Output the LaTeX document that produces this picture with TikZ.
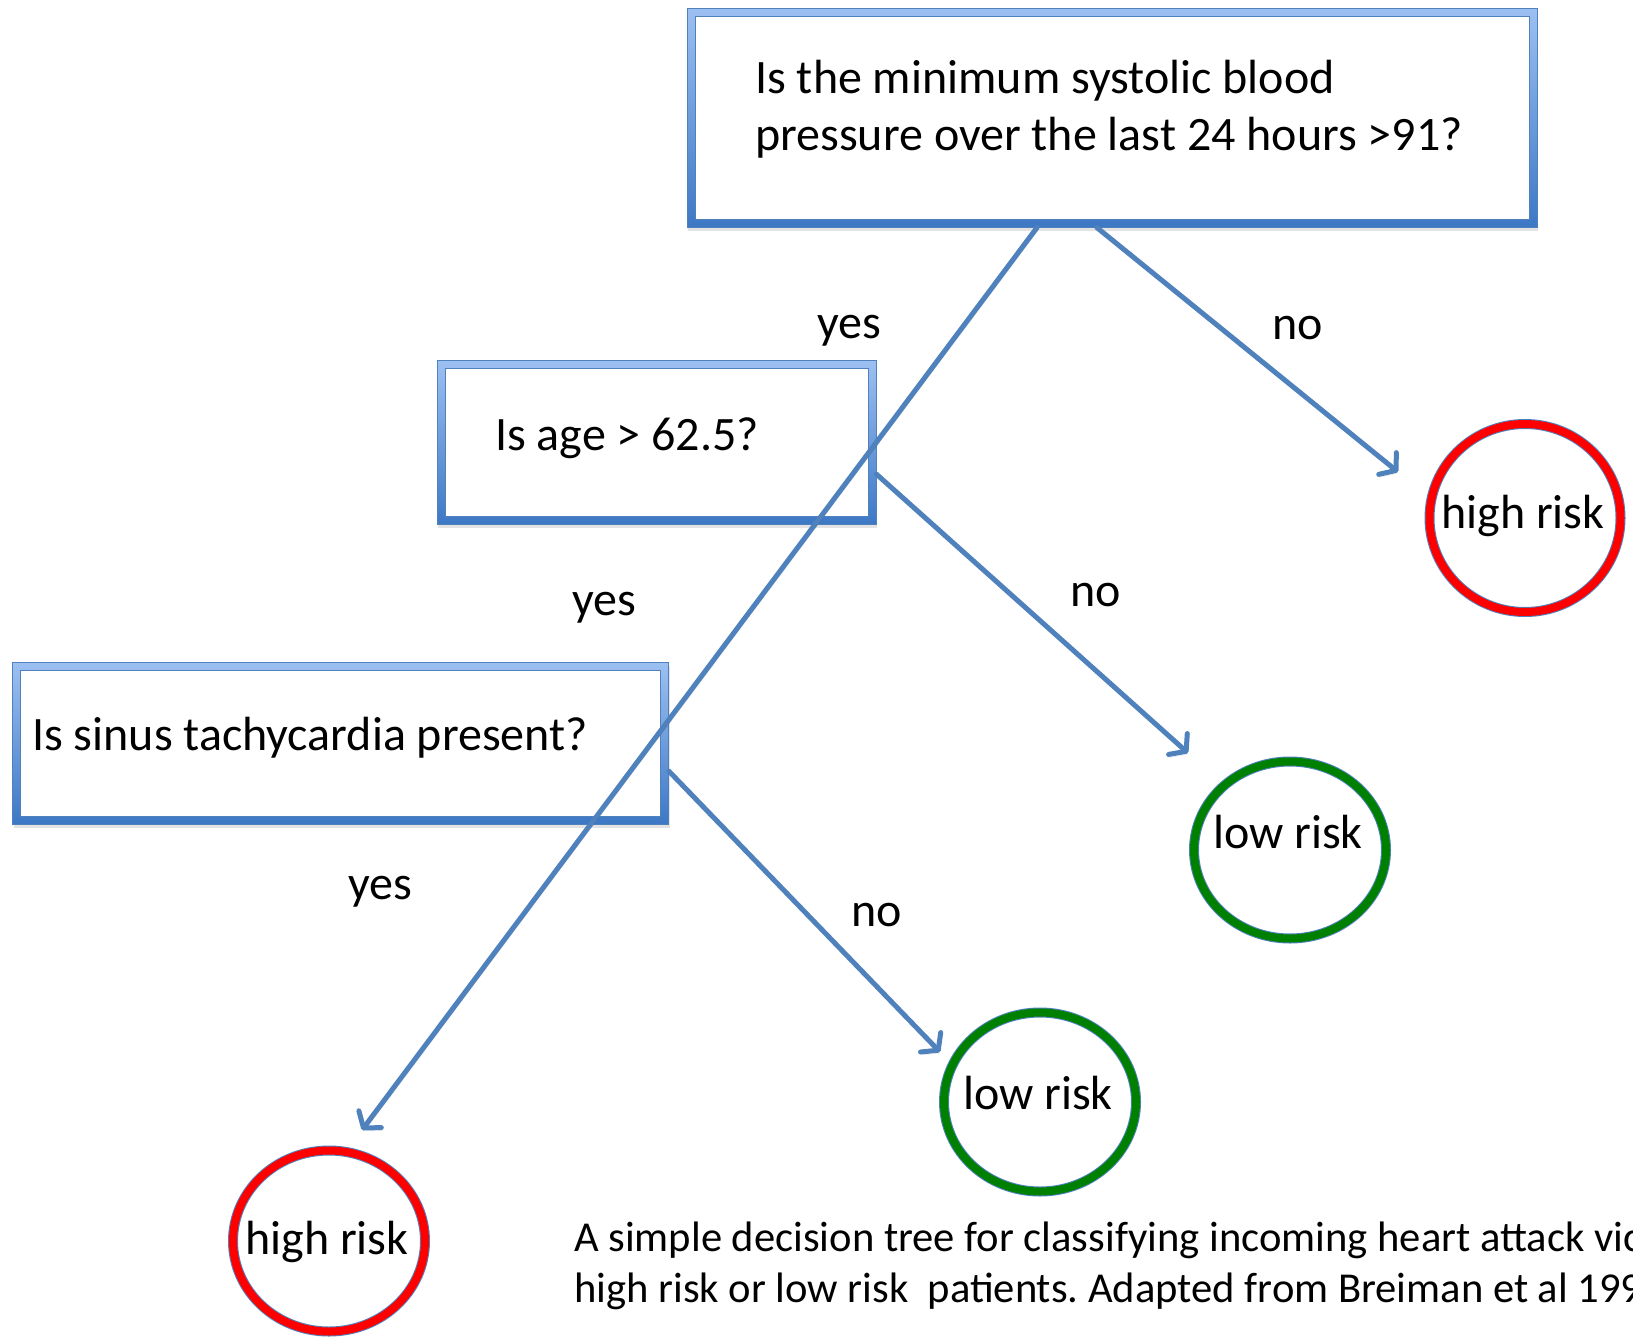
\documentclass[tikz,border=0pt]{standalone}
\usepackage{fontspec}
\setmainfont{Carlito}
\usetikzlibrary{arrows.meta,shapes.geometric,shadows,calc}

\definecolor{linkblue}{HTML}{4F81BD}
\definecolor{framelight}{HTML}{9DC0F2}
\definecolor{framedark}{HTML}{3D78C5}
\definecolor{riskred}{HTML}{FF0000}
\definecolor{riskgreen}{HTML}{008000}

\frenchspacing
\begin{document}
\begin{tikzpicture}[x=1pt,y=-1pt,
  softshadow/.style={drop shadow={opacity=0.22, shadow xshift=1pt, shadow yshift=-4pt}},
  question/.style={rectangle, draw=linkblue, line width=0.8pt,
    top color=framelight, bottom color=framedark, inner sep=0pt, softshadow,
    path picture={\fill[white, draw=linkblue, line width=0.8pt]
      ([shift={(8pt,-8pt)}]path picture bounding box.north west) rectangle
      ([shift={(-8pt,8pt)}]path picture bounding box.south east);}},
  outcome/.style={ellipse, inner sep=0pt, line width=8pt, softshadow,
    preaction={fill=white},
    preaction={draw=linkblue, line width=10pt}},
  high/.style={outcome, draw=riskred},
  low/.style={outcome, draw=riskgreen},
  txt/.style={inner sep=0pt, font=\fontsize{48}{57}\selectfont},
  caption/.style={inner sep=0pt, align=left, font=\fontsize{42.6}{51}\selectfont},
  arr/.style={draw=linkblue, line width=5pt, line cap=round,
    -{Straight Barb[length=11pt,width=28pt,round]},
    preaction={draw=black, draw opacity=0.12, transform canvas={shift={(1pt,-3pt)}}}}
]
\useasboundingbox (0,0) rectangle (1633,1336);
\fill[white] (0,0) rectangle (1633,1336);

% question boxes
\node[question, minimum width=850pt, minimum height=219pt] (top) at (1112,117.5) {};
\node[question, minimum width=439pt, minimum height=164pt] (age) at (656.5,442) {};
\node[question, minimum width=656pt, minimum height=162pt] (sinus) at (340.5,743) {};

\node[txt, align=left, anchor=west] (topq) at (755,109)
  {Is the minimum systolic blood\\pressure over the last 24 hours >91?};
\node[txt, anchor=base west] (ageq) at (495,450) {Is age > 62.5?};
\node[txt, anchor=base west] (sinusq) at (32,750) {Is sinus tachycardia present?};

% outcome circles
\node[high, minimum width=191pt, minimum height=188pt] (hr1) at (1525,518) {};
\node[low,  minimum width=192pt, minimum height=177pt] (lr1) at (1290,850) {};
\node[low,  minimum width=192pt, minimum height=179pt] (lr2) at (1040,1102) {};
\node[high, minimum width=192pt, minimum height=181pt] (hr2) at (329,1241) {};

\node[txt, anchor=base] (hr1t) at (1523,528) {high risk};
\node[txt, anchor=base] (lr1t) at (1288,848) {low risk};
\node[txt, anchor=base] (lr2t) at (1038,1109) {low risk};
\node[txt, anchor=base] (hr2t) at (327,1254) {high risk};

% arrow tips
\coordinate (tipA) at ($(hr2.center)+(33,-111)$);
\coordinate (tipB) at ($(hr1.center)+(-127,-46)$);
\coordinate (tipC) at ($(lr1.center)+(-102,-97)$);
\coordinate (tipD) at ($(lr2.center)+(-100,-50)$);

% branches
\draw[arr] ($(top.south west)!0.412!(top.south east)$) -- (tipA);
\draw[arr] ($(top.south west)!0.482!(top.south east)$) -- (tipB);
\draw[arr] ($(age.north east)!0.695!(age.south east)$) -- (tipC);
\draw[arr] ($(sinus.north east)!0.673!(sinus.south east)$) -- (tipD);

% branch labels
\node[txt] (y1) at (849,331) {yes};
\node[txt] (n1) at (1298,328) {no};
\node[txt] (y2) at (604,608) {yes};
\node[txt] (n2) at (1096,595) {no};
\node[txt] (y3) at (380,892) {yes};
\node[txt] (n3) at (877,915) {no};

% caption
\node[caption, anchor=west] (cap) at (574,1266)
  {A simple decision tree for classifying incoming heart attack vic\\high risk or low risk\ \ patients. Adapted from Breiman et al 199};
\end{tikzpicture}
\end{document}
